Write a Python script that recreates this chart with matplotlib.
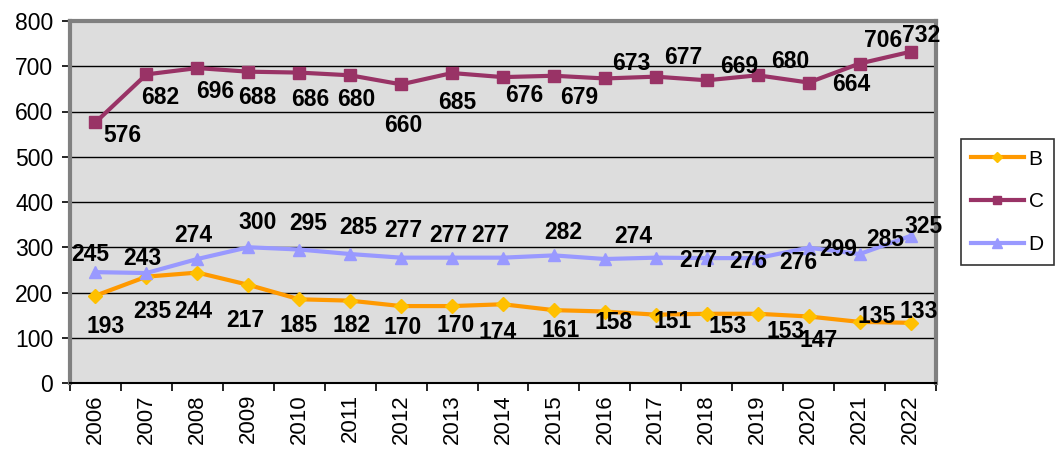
import matplotlib.pyplot as plt
import numpy as np

plt.rcParams['font.family'] = ['Liberation Sans', 'DejaVu Sans']

# Dados
anos = [str(a) for a in range(2006, 2023)]
serie_b = [193, 235, 244, 217, 185, 182, 170, 170, 174, 161, 158, 151, 153, 153, 147, 135, 133]
serie_c = [576, 682, 696, 688, 686, 680, 660, 685, 676, 679, 673, 677, 669, 680, 664, 706, 732]
serie_d = [245, 243, 274, 300, 295, 285, 277, 277, 277, 282, 274, 277, 276, 276, 299, 285, 325]

# deslocamento dos rótulos (pixels: dx, dy para baixo)
desl_b = [(10, 31), (6, 35), (-4, 39), (-3, 36), (-1, 26), (1, 25), (2, 21), (4, 19), (-5, 28),
          (7, 20), (9, 11), (17, 7), (21, 13), (28, 18), (10, 24), (17, -5), (8, -11)]
desl_c = [(27, 13), (14, 23), (18, 23), (9, 26), (11, 27), (6, 24), (2, 41), (5, 29), (21, 18),
          (25, 22), (26, -15), (27, -19), (32, -14), (33, -14), (43, 2), (24, -23), (11, -16)]
desl_d = [(-5, -18), (-4, -15), (-4, -24), (9, -25), (9, -26), (8, -27), (2, -27), (-4, -22), (-13, -22),
          (9, -23), (28, -23), (42, 3), (42, 3), (41, 4), (30, 2), (26, -15), (13, -9)]

fig = plt.figure(figsize=(10.55, 4.5), dpi=100)
ax = fig.add_axes([70 / 1055, 1 - 383 / 450, 866 / 1055, 362 / 450])
ax.set_facecolor('#DDDDDD')

x = np.arange(len(anos))
ax.plot(x, serie_b, color='#FF9900', lw=3, marker='D', ms=7, mfc='#FFC000', mec='#FFC000', label='B', zorder=3)
ax.plot(x, serie_c, color='#993366', lw=3, marker='s', ms=8, label='C', zorder=3)
ax.plot(x, serie_d, color='#9999FF', lw=3, marker='^', ms=9, label='D', zorder=3)

for vals, desl in [(serie_b, desl_b), (serie_c, desl_c), (serie_d, desl_d)]:
    for i, (v, (dx, dy)) in enumerate(zip(vals, desl)):
        ax.annotate(str(v), (i, v), xytext=(dx, -dy), textcoords='offset pixels',
                    ha='center', va='center', fontsize=16.5, fontweight='bold', zorder=4)

ax.set_ylim(0, 800)
ax.set_yticks(range(0, 801, 100))
ax.set_xlim(-0.5, len(anos) - 0.5)
ax.set_xticks(np.arange(-0.5, len(anos), 1))
ax.set_xticklabels([])
ax.set_xticks(x, minor=True)
ax.set_xticklabels(anos, minor=True, rotation=90, fontsize=16)
ax.tick_params(axis='x', which='minor', length=0, pad=8)
ax.tick_params(axis='x', which='major', length=6, width=1.2, direction='out')
ax.tick_params(axis='y', length=6, width=1.2, direction='out', labelsize=16.5, pad=6)
ax.grid(axis='y', color='black', lw=1)
ax.set_axisbelow(True)

for s in ['left', 'top', 'right']:
    ax.spines[s].set_color('#808080')
    ax.spines[s].set_linewidth(3)
ax.spines['bottom'].set_color('black')
ax.spines['bottom'].set_linewidth(1.5)

leg = fig.legend(loc='center left', bbox_to_anchor=(961 / 1055, 1 - 202 / 450), fontsize=15,
                 frameon=True, fancybox=False, edgecolor='black', handlelength=2.5,
                 labelspacing=1.15, borderpad=0.5, borderaxespad=0, handletextpad=0.25,
                 markerscale=0.8)
leg.get_frame().set_linewidth(1.2)

fig.savefig('out.png', dpi=100)
